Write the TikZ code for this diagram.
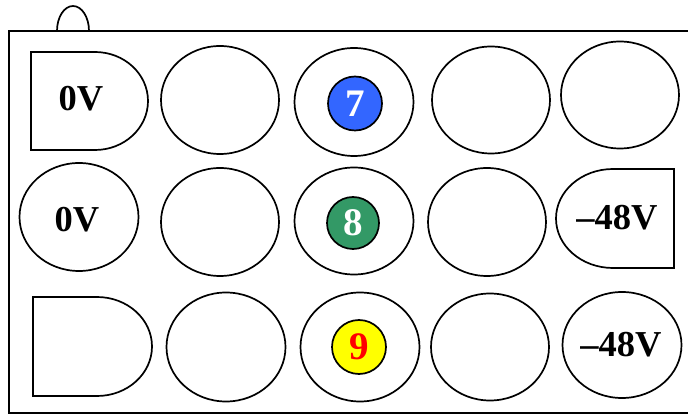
\documentclass[tikz,border=0pt]{standalone}
\usepackage{fontspec}
\setmainfont{Liberation Serif}
\usetikzlibrary{shapes.geometric}
\definecolor{pinblue}{RGB}{51,102,255}
\definecolor{pingreen}{RGB}{51,153,102}
\definecolor{pinyellow}{RGB}{255,255,0}
\tikzset{
  hole/.style={draw=black, line width=1.7pt, ellipse, inner sep=0pt, outer sep=0pt},
  dshape/.style={draw=black, line width=1.7pt},
  pin/.style={draw=black, line width=1.7pt, circle, inner sep=0pt, outer sep=0pt,
    font=\fontsize{39}{42}\selectfont\bfseries},
  lbl/.style={font=\fontsize{36.5}{40}\selectfont\bfseries, inner sep=0pt},
  frame/.style={draw=black, line width=2.6pt}
}
\begin{document}
\begin{tikzpicture}[x=1pt,y=1pt]
\useasboundingbox (0,0) rectangle (688,415);
% frame and handle
\draw[frame] (692,384) -- (9,384) -- (9,2) -- (692,2);
\draw[dshape] (57,384) arc[start angle=180, end angle=0, x radius=16, y radius=25];
% row 1
\draw[dshape] (31,363) -- (95,363) arc[start angle=90, end angle=-90, x radius=53, y radius=49] -- (31,265) -- cycle;
\node[lbl] (v1) at (81,316) {0V};
\node[hole, minimum width=118pt, minimum height=108pt] (r1c2) at (220,315) {};
\node[hole, minimum width=119pt, minimum height=108pt] (r1c3) at (354,313) {};
\node[hole, minimum width=118pt, minimum height=107pt] (r1c4) at (491,315) {};
\node[hole, minimum width=118pt, minimum height=107pt] (r1c5) at (620,320) {};
\node[pin, fill=pinblue, text=white, minimum size=54pt] (p7) at (355,311.5) {7};
% row 2
\node[hole, minimum width=119pt, minimum height=108pt] (r2c1) at (79,198) {};
\node[lbl] (v2) at (77,195) {0V};
\node[hole, minimum width=118pt, minimum height=108pt] (r2c2) at (220,193) {};
\node[hole, minimum width=119pt, minimum height=107pt] (r2c3) at (354,194) {};
\node[hole, minimum width=118pt, minimum height=108pt] (r2c4) at (487,193) {};
\draw[dshape] (674,246) -- (613,246) arc[start angle=90, end angle=270, x radius=57, y radius=49.5] -- (674,147) -- cycle;
\node[lbl] (v3) at (617,197) {–48V};
\node[pin, fill=pingreen, text=white, minimum size=52pt] (p8) at (353,192) {8};
% row 3
\draw[dshape] (33,118) -- (97,118) arc[start angle=90, end angle=-90, x radius=55, y radius=49.5] -- (33,19) -- cycle;
\node[hole, minimum width=119pt, minimum height=109pt] (r3c2) at (226,68) {};
\node[hole, minimum width=119pt, minimum height=109pt] (r3c3) at (360,68) {};
\node[hole, minimum width=118pt, minimum height=107pt] (r3c4) at (490,68) {};
\node[hole, minimum width=119pt, minimum height=106pt] (r3c5) at (622,70) {};
\node[lbl] (v4) at (621,70) {–48V};
\node[pin, fill=pinyellow, text=red, minimum size=54pt] (p9) at (359,68) {9};
\end{tikzpicture}
\end{document}
